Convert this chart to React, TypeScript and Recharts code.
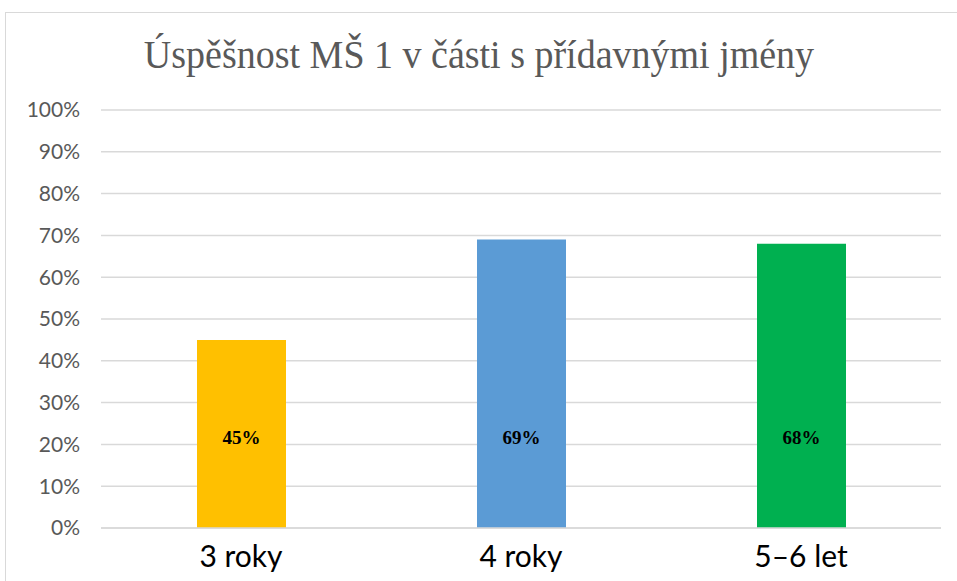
import { BarChart, Bar, XAxis, YAxis, CartesianGrid, Cell, LabelList } from 'recharts';

const categories = ['3 roky', '4 roky', '5–6 let'];
const success = [0.45, 0.69, 0.68];
const barColors = ['#FFC000', '#5B9BD5', '#00B050'];
const yTicks = [0, 0.1, 0.2, 0.3, 0.4, 0.5, 0.6, 0.7, 0.8, 0.9, 1];

const data = categories.map((name, i) => ({ name, value: success[i] }));

const pct = (v: number) => `${Math.round(v * 100)}%`;

export default function App() {
  return (
    <div
      style={{
        position: 'absolute',
        left: 5,
        top: 12,
        width: 960,
        height: 590,
        border: '1.5px solid #d9d9d9',
        background: '#fff',
        boxSizing: 'border-box',
      }}
    >
      <div
        style={{
          position: 'absolute',
          left: 0,
          width: 946,
          top: 19,
          textAlign: 'center',
          fontFamily: '"Liberation Serif", serif',
          fontSize: 38,
          transform: 'scaleY(1.08)',
          color: '#595959',
        }}
      >
        Úspěšnost MŠ 1 v části s přídavnými jmény
      </div>
      <BarChart
        width={960}
        height={580}
        data={data}
        margin={{ top: 97, right: 25, left: 0, bottom: 0 }}
        barSize={89}
      >
        <CartesianGrid vertical={false} stroke="#d9d9d9" strokeWidth={1.5} />
        <XAxis
          dataKey="name"
          height={65}
          tickLine={false}
          tickSize={0}
          tickMargin={18}
          axisLine={{ stroke: '#d9d9d9', strokeWidth: 1.5 }}
          tick={{ fill: '#000', fontSize: 30, fontFamily: 'Lato, sans-serif' }}
        />
        <YAxis
          width={95}
          domain={[0, 1]}
          ticks={yTicks}
          tickFormatter={pct}
          axisLine={false}
          tickLine={false}
          tickSize={0}
          tickMargin={21}
          tick={{ fill: '#595959', fontSize: 21, fontFamily: 'Lato, sans-serif' }}
        />
        <Bar dataKey="value" isAnimationActive={false}>
          {data.map((d, i) => (
            <Cell key={d.name} fill={barColors[i]} />
          ))}
          <LabelList
            dataKey="value"
            position="insideBottom"
            offset={84}
            formatter={(v: number) => pct(v)}
            style={{ fill: '#000', fontSize: 19, fontWeight: 'bold', fontFamily: '"Liberation Serif", serif' }}
          />
        </Bar>
      </BarChart>
    </div>
  );
}
